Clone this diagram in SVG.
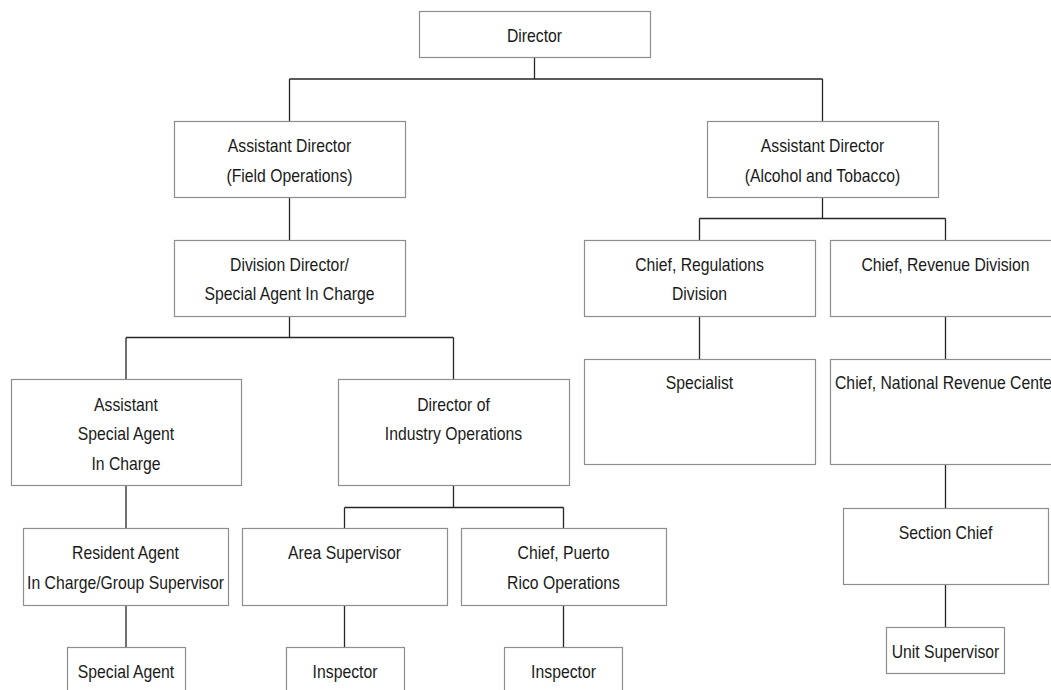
<svg xmlns="http://www.w3.org/2000/svg" width="1051" height="690" viewBox="0 0 1051 690">
<style>
.b{fill:#fff;stroke:#8e8e8e;stroke-width:1.2}
.t{font-family:"Liberation Sans",Arial,sans-serif;font-size:18px;fill:#1a1a1a;text-anchor:middle}
.s{text-anchor:start}
.c{fill:none;stroke:#262626;stroke-width:1.3}
</style>
<rect width="1051" height="690" fill="#fff"/>
<g id="connectors">
<path class="c" d="M534.5 58V79M289.5 79H822.5M289.5 79V121M822.5 79V121"/>
<path class="c" d="M289.5 197V240"/>
<path class="c" d="M822.5 197V218.5M699.5 218.5H945.5M699.5 218.5V240M945.5 218.5V240"/>
<path class="c" d="M289.5 316V337.5M126 337.5H453.5M126 337.5V379M453.5 337.5V379"/>
<path class="c" d="M699.5 316V359M945.5 316V359"/>
<path class="c" d="M126 485V528M453.5 485V507.5M344.5 507.5H563.5M344.5 507.5V528M563.5 507.5V528"/>
<path class="c" d="M945.5 464V508M945.5 584V627"/>
<path class="c" d="M126 605V647M344.5 605V647M563.5 605V647"/>
</g>
<g id="director"><rect class="b" x="419.5" y="11.5" width="231" height="46"/><text class="t" transform="matrix(0.875 0 0 1 534.5 41.5)">Director</text></g>
<g id="ad-field"><rect class="b" x="174.5" y="121.5" width="231" height="76"/><text class="t" transform="matrix(0.875 0 0 1 289.5 152)">Assistant Director</text><text class="t" transform="matrix(0.875 0 0 1 289.5 181.5)">(Field Operations)</text></g>
<g id="ad-alcohol"><rect class="b" x="707.5" y="121.5" width="231" height="76"/><text class="t" transform="matrix(0.875 0 0 1 822.5 152)">Assistant Director</text><text class="t" transform="matrix(0.875 0 0 1 822.5 181.5)">(Alcohol and Tobacco)</text></g>
<g id="division-director"><rect class="b" x="174.5" y="240.5" width="231" height="76"/><text class="t" transform="matrix(0.875 0 0 1 289.5 270.5)">Division Director/</text><text class="t" transform="matrix(0.875 0 0 1 289.5 300)">Special Agent In Charge</text></g>
<g id="chief-regulations"><rect class="b" x="584.5" y="240.5" width="231" height="76"/><text class="t" transform="matrix(0.875 0 0 1 699.5 270.5)">Chief, Regulations</text><text class="t" transform="matrix(0.875 0 0 1 699.5 300)">Division</text></g>
<g id="chief-revenue"><rect class="b" x="830.5" y="240.5" width="231" height="76"/><text class="t" transform="matrix(0.875 0 0 1 945.5 270.5)">Chief, Revenue Division</text></g>
<g id="asac"><rect class="b" x="11.5" y="379.5" width="230" height="106"/><text class="t" transform="matrix(0.875 0 0 1 126 410.5)">Assistant</text><text class="t" transform="matrix(0.875 0 0 1 126 440)">Special Agent</text><text class="t" transform="matrix(0.875 0 0 1 126 469.5)">In Charge</text></g>
<g id="dio"><rect class="b" x="338.5" y="379.5" width="231" height="106"/><text class="t" transform="matrix(0.875 0 0 1 453.5 410.5)">Director of</text><text class="t" transform="matrix(0.875 0 0 1 453.5 440)">Industry Operations</text></g>
<g id="specialist"><rect class="b" x="584.5" y="359.5" width="231" height="105"/><text class="t" transform="matrix(0.875 0 0 1 699.5 389)">Specialist</text></g>
<g id="nrc"><rect class="b" x="830.5" y="359.5" width="231" height="105"/><text class="t s" transform="matrix(0.875 0 0 1 835 389)">Chief, National Revenue Cente</text></g>
<g id="raic"><rect class="b" x="23.5" y="528.5" width="205" height="77"/><text class="t" transform="matrix(0.875 0 0 1 125.5 559)">Resident Agent</text><text class="t" transform="matrix(0.875 0 0 1 125.5 588.5)">In Charge/Group Supervisor</text></g>
<g id="area-supervisor"><rect class="b" x="242.5" y="528.5" width="205" height="77"/><text class="t" transform="matrix(0.875 0 0 1 344.5 559)">Area Supervisor</text></g>
<g id="chief-pr"><rect class="b" x="461.5" y="528.5" width="205" height="77"/><text class="t" transform="matrix(0.875 0 0 1 563.5 559)">Chief, Puerto</text><text class="t" transform="matrix(0.875 0 0 1 563.5 588.5)">Rico Operations</text></g>
<g id="section-chief"><rect class="b" x="843.5" y="508.5" width="205" height="76"/><text class="t" transform="matrix(0.875 0 0 1 945.5 538.5)">Section Chief</text></g>
<g id="unit-supervisor"><rect class="b" x="886.5" y="627.5" width="118" height="46"/><text class="t" transform="matrix(0.875 0 0 1 945.5 657.5)">Unit Supervisor</text></g>
<g id="special-agent"><rect class="b" x="67.5" y="647.5" width="118" height="60"/><text class="t" transform="matrix(0.875 0 0 1 126 677.5)">Special Agent</text></g>
<g id="inspector-1"><rect class="b" x="286.5" y="647.5" width="118" height="60"/><text class="t" transform="matrix(0.875 0 0 1 345 677.5)">Inspector</text></g>
<g id="inspector-2"><rect class="b" x="504.5" y="647.5" width="118" height="60"/><text class="t" transform="matrix(0.875 0 0 1 563.5 677.5)">Inspector</text></g>
</svg>
